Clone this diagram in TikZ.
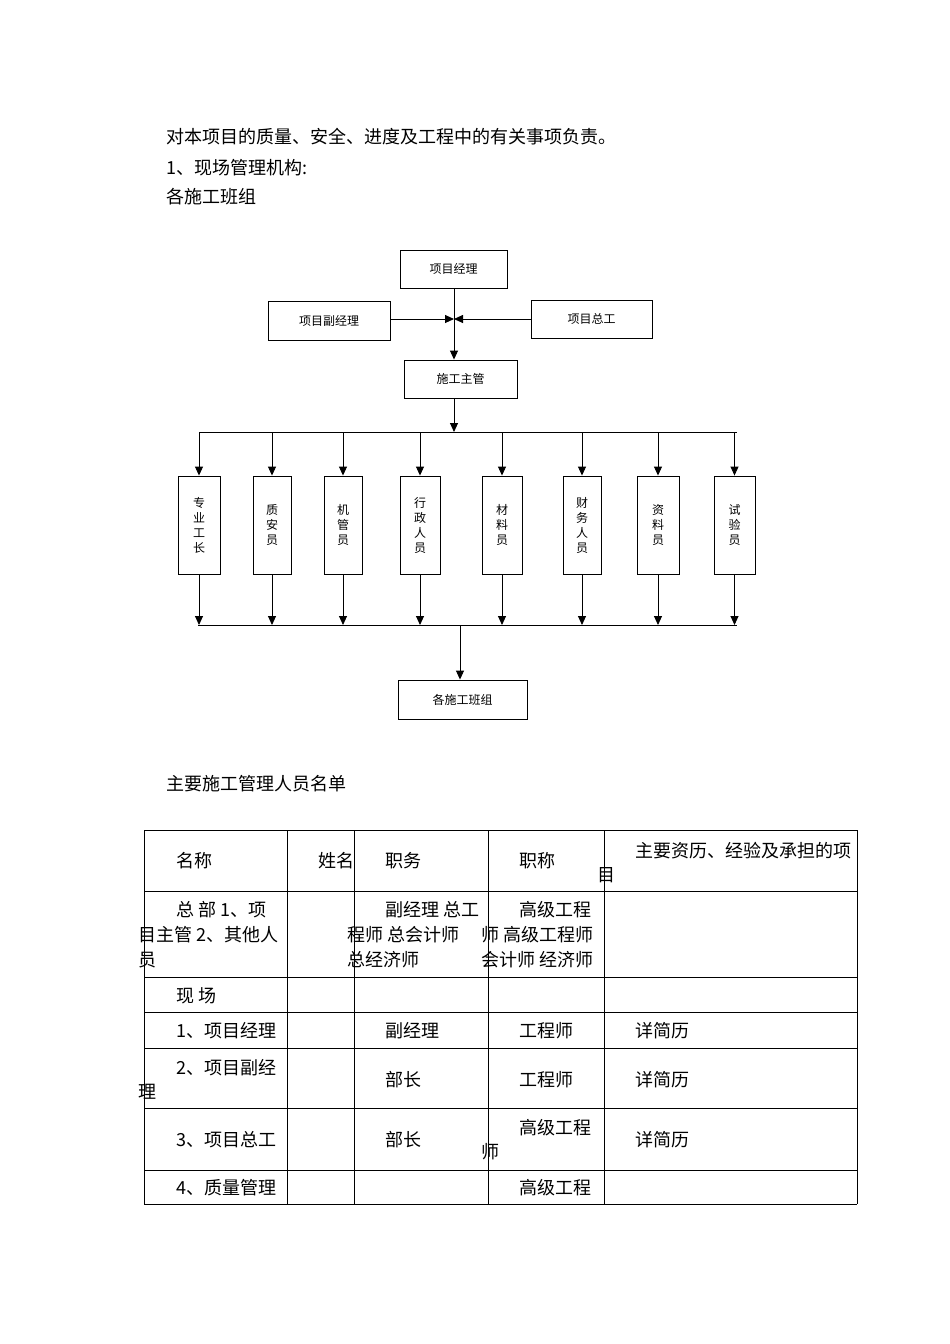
\documentclass[tikz,border=0pt]{standalone}
\usepackage{fontspec}
\setmainfont{Noto Sans CJK SC}
\usetikzlibrary{arrows.meta}
\begin{document}
\begin{tikzpicture}[x=1pt,y=-1pt,
  every node/.style={inner sep=0pt},
  bx/.style={draw,line width=0.9pt,font=\fontsize{12}{13}\selectfont},
  ar/.style={line width=0.9pt,-{Triangle[length=9pt,width=8pt]}},
  ln/.style={line width=0.9pt},
  bt/.style={anchor=west,font=\fontsize{18}{20}\selectfont},
  tl/.style={line width=0.8pt}]
\useasboundingbox[fill=white] (0,0) rectangle (950,1344);
\node[bt] (t1) at (166,137) {对本项目的质量、安全、进度及工程中的有关事项负责。};
\node[bt] (t2) at (166,168) {1、现场管理机构:};
\node[bt] (t3) at (166,197) {各施工班组};
% chart
\node[bx,minimum width=107pt,minimum height=38pt] (pm) at (453.5,269) {项目经理};
\node[bx,minimum width=122pt,minimum height=39pt] (dpm) at (329,320.5) {项目副经理};
\node[bx,minimum width=121pt,minimum height=38pt] (ce) at (591.5,319) {项目总工};
\node[bx,minimum width=113pt,minimum height=38pt] (sm) at (460.5,379) {施工主管};
\coordinate (j) at (454,319);
\draw[ln] (pm.south -| j) -- (j);
\draw[ar] (dpm.east |- j) -- (j);
\draw[ar] (ce.west |- j) -- (j);
\draw[ar] (j) -- (j |- sm.north);
\coordinate (bt) at (454,432);
\draw[ar] (j |- sm.south) -- (bt);
\draw[ln] (200,432) -- (737,432);
\draw[ln] (198,625) -- (737,625);
\foreach \n/\xa/\xb/\t in {a/178/220/{专\\业\\工\\长},b/253/291/{质\\安\\员},c/324/362/{机\\管\\员},d/400/440/{行\\政\\人\\员},e/482/522/{材\\料\\员},f/563/601/{财\\务\\人\\员},g/637/679/{资\\料\\员},h/714/755/{试\\验\\员}}{
  \pgfmathsetmacro\xc{(\xa+\xb)/2}
  \pgfmathsetmacro\w{\xb-\xa}
  \node[bx,minimum width=\w pt,minimum height=98pt,align=center,font=\fontsize{12}{15}\selectfont] (v\n) at (\xc,525) {\t};
  \coordinate (u\n) at (\xc,432);
  \coordinate (l\n) at (\xc,625);
  \draw[ar] (u\n) -- (v\n.north);
  \draw[ar] (v\n.south) -- (l\n);
}
\node[bx,minimum width=129pt,minimum height=39pt] (tm) at (462.5,699.5) {各施工班组};
\coordinate (bb) at (460,625);
\draw[ar] (bb) -- (bb |- tm.north);
% table
\node[bt] (t4) at (166,784) {主要施工管理人员名单};
\foreach \x in {144,287,354,488,604,857} \draw[tl] (\x,830) -- (\x,1204);
\foreach \y in {830,891,977,1012,1048,1108,1170,1204} \draw[tl] (144,\y) -- (857,\y);
\node[bt] (c1) at (176,861) {名称};
\node[bt,anchor=east] (c2) at (355,861) {姓名};
\node[bt] (c3) at (385,861) {职务};
\node[bt] (c4) at (519,861) {职称};
\node[bt] (c5) at (635,851) {主要资历、经验及承担的项};
\node[bt] (c5b) at (597,875) {目};
\node[bt] (r2a) at (176,910) {总\ 部 1、项};
\node[bt] (r2b) at (138,935) {目主管 2、其他人};
\node[bt] (r2c) at (138,960) {员};
\node[bt] (r2d) at (385,910) {副经理 总工};
\node[bt] (r2e) at (347,935) {程师 总会计师};
\node[bt] (r2f) at (347,960) {总经济师};
\node[bt] (r2g) at (519,910) {高级工程};
\node[bt] (r2h) at (481,935) {师 高级工程师};
\node[bt] (r2i) at (481,960) {会计师 经济师};
\node[bt] (r3) at (176,996) {现\ 场};
\node[bt] (r4a) at (176,1031) {1、项目经理};
\node[bt] (r4b) at (385,1031) {副经理};
\node[bt] (r4c) at (519,1031) {工程师};
\node[bt] (r4d) at (635,1031) {详简历};
\node[bt] (r5a) at (176,1068) {2、项目副经};
\node[bt] (r5b) at (138,1092) {理};
\node[bt] (r5c) at (385,1080) {部长};
\node[bt] (r5d) at (519,1080) {工程师};
\node[bt] (r5e) at (635,1080) {详简历};
\node[bt] (r6a) at (176,1140) {3、项目总工};
\node[bt] (r6b) at (385,1140) {部长};
\node[bt] (r6c) at (519,1128) {高级工程};
\node[bt] (r6d) at (481,1152) {师};
\node[bt] (r6e) at (635,1140) {详简历};
\node[bt] (r7a) at (176,1188) {4、质量管理};
\node[bt] (r7b) at (519,1188) {高级工程};
\end{tikzpicture}
\end{document}
